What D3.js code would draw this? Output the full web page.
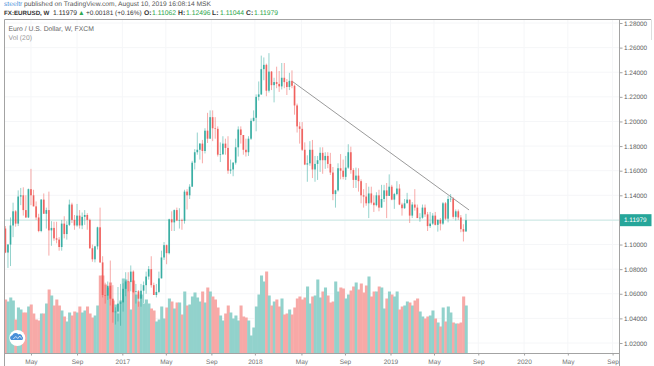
<!DOCTYPE html>
<html>
<head>
<meta charset="utf-8">
<script src="https://cdnjs.cloudflare.com/ajax/libs/d3/7.8.5/d3.min.js"></script>
<style>
  html, body { margin: 0; padding: 0; background: #fff; }
  text { font-family: "Liberation Sans", Arial, sans-serif; text-rendering: geometricPrecision; }
</style>
</head>
<body>
<div id="chart1"></div>
<script>
// weekly candles, first bar = week of 22 Feb 2016
const opens = [
  1.1130,1.0935,1.1000,1.1155,1.1270,1.1170,1.1390,1.1400,1.1280,1.1220,
  1.1450,1.1400,1.1310,1.1220,1.1110,1.1365,1.1250,1.1280,1.1115,1.1135,
  1.1050,1.1040,1.0980,1.1170,1.1085,1.1160,1.1325,1.1200,1.1155,1.1235,
  1.1155,1.1225,1.1240,1.1200,1.0970,1.0880,1.0985,1.1140,1.0855,1.0590,
  1.0585,1.0665,1.0560,1.0450,1.0455,1.0520,1.0530,1.0640,1.0700,1.0695,
  1.0780,1.0615,1.0620,1.0560,1.0625,1.0670,1.0740,1.0800,1.0670,1.0590,
  1.0615,1.0725,1.0895,1.0995,1.0930,1.1205,1.1180,1.1280,1.1195,1.1198,
  1.1192,1.1430,1.1400,1.1470,1.1665,1.1750,1.1770,1.1820,1.1760,1.1925,
  1.1860,1.2035,1.1945,1.1940,1.1730,1.1733,1.1820,1.1785,1.1600,1.1610,
  1.1665,1.1790,1.1935,1.1890,1.1770,1.1750,1.1860,1.2005,1.2030,1.2200,
  1.2220,1.2425,1.2460,1.2250,1.2405,1.2295,1.2320,1.2305,1.2285,1.2355,
  1.2320,1.2280,1.2330,1.2290,1.2130,1.1960,1.1940,1.1770,1.1650,1.1660,
  1.1770,1.1610,1.1655,1.1685,1.1745,1.1685,1.1720,1.1655,1.1585,1.1410,
  1.1440,1.1620,1.1600,1.1550,1.1625,1.1750,1.1605,1.1525,1.1560,1.1515,
  1.1400,1.1390,1.1335,1.1415,1.1340,1.1320,1.1400,1.1300,1.1370,1.1440,
  1.1395,1.1470,1.1365,1.1410,1.1455,1.1325,1.1295,1.1335,1.1365,1.1235,
  1.1325,1.1300,1.1215,1.1218,1.1300,1.1245,1.1150,1.1170,1.1235,1.1160,
  1.1200,1.1170,1.1335,1.1210,1.1370,1.1372,1.1225,1.1270,1.1220,1.1125,
  1.11062
];
const closes = [
  1.0935,1.1000,1.1155,1.1270,1.1170,1.1390,1.1400,1.1280,1.1220,1.1450,
  1.1400,1.1310,1.1220,1.1110,1.1365,1.1250,1.1280,1.1115,1.1135,1.1050,
  1.1040,1.0980,1.1170,1.1085,1.1160,1.1325,1.1200,1.1155,1.1235,1.1155,
  1.1225,1.1240,1.1200,1.0970,1.0880,1.0985,1.1140,1.0855,1.0590,1.0585,
  1.0665,1.0560,1.0450,1.0455,1.0520,1.0530,1.0640,1.0700,1.0695,1.0780,
  1.0615,1.0620,1.0560,1.0625,1.0670,1.0740,1.0800,1.0670,1.0590,1.0615,
  1.0725,1.0895,1.0995,1.0930,1.1205,1.1180,1.1280,1.1195,1.1198,1.1192,
  1.1430,1.1400,1.1470,1.1665,1.1750,1.1770,1.1820,1.1760,1.1925,1.1860,
  1.2035,1.1945,1.1940,1.1730,1.1733,1.1820,1.1785,1.1600,1.1610,1.1665,
  1.1790,1.1935,1.1890,1.1770,1.1750,1.1860,1.2005,1.2030,1.2200,1.2220,
  1.2425,1.2460,1.2250,1.2405,1.2295,1.2320,1.2305,1.2285,1.2355,1.2320,
  1.2280,1.2330,1.2290,1.2130,1.1960,1.1940,1.1770,1.1650,1.1660,1.1770,
  1.1610,1.1655,1.1685,1.1745,1.1685,1.1720,1.1655,1.1585,1.1410,1.1440,
  1.1620,1.1600,1.1550,1.1625,1.1750,1.1605,1.1525,1.1560,1.1515,1.1400,
  1.1390,1.1335,1.1415,1.1340,1.1320,1.1400,1.1300,1.1370,1.1440,1.1395,
  1.1470,1.1365,1.1410,1.1455,1.1325,1.1295,1.1335,1.1365,1.1235,1.1325,
  1.1300,1.1215,1.1218,1.1300,1.1245,1.1150,1.1170,1.1235,1.1160,1.1200,
  1.1170,1.1335,1.1210,1.1370,1.1372,1.1225,1.1270,1.1220,1.1125,1.1105,
  1.11979
];
const highs = [
  1.1150,1.1005,1.1220,1.1340,1.1280,1.1440,1.1460,1.1465,1.1400,1.1455,
  1.1615,1.1445,1.1350,1.1250,1.1370,1.1415,1.1300,1.1430,1.1190,1.1185,
  1.1185,1.1060,1.1200,1.1230,1.1190,1.1365,1.1340,1.1240,1.1330,1.1280,
  1.1260,1.1280,1.1255,1.1210,1.1000,1.0990,1.1145,1.1300,1.0905,1.0690,
  1.0700,1.0870,1.0670,1.0490,1.0655,1.0680,1.0685,1.0775,1.0775,1.0830,
  1.0790,1.0680,1.0630,1.0680,1.0700,1.0780,1.0825,1.0905,1.0690,1.0680,
  1.0780,1.0950,1.1020,1.1000,1.1210,1.1270,1.1285,1.1300,1.1295,1.1210,
  1.1445,1.1450,1.1490,1.1680,1.1775,1.1910,1.1825,1.1850,1.1945,1.2070,
  1.2090,1.2090,1.2035,1.1960,1.1830,1.1880,1.1860,1.1880,1.1690,1.1670,
  1.1860,1.1960,1.1960,1.1890,1.1860,1.1880,1.2025,1.2090,1.2220,1.2325,
  1.2535,1.2520,1.2470,1.2555,1.2410,1.2355,1.2445,1.2410,1.2475,1.2475,
  1.2345,1.2395,1.2415,1.2300,1.2145,1.1995,1.1995,1.1830,1.1725,1.1840,
  1.1850,1.1720,1.1720,1.1790,1.1790,1.1750,1.1750,1.1745,1.1630,1.1445,
  1.1660,1.1735,1.1690,1.1720,1.1815,1.1795,1.1620,1.1625,1.1620,1.1530,
  1.1450,1.1500,1.1470,1.1470,1.1400,1.1425,1.1445,1.1485,1.1485,1.1500,
  1.1570,1.1485,1.1420,1.1515,1.1490,1.1340,1.1370,1.1420,1.1365,1.1345,
  1.1450,1.1325,1.1255,1.1325,1.1325,1.1265,1.1265,1.1255,1.1265,1.1205,
  1.1215,1.1345,1.1345,1.1395,1.1410,1.1385,1.1285,1.1285,1.1240,1.1165,
  1.12496
];
const lows = [
  1.0930,1.0810,1.0825,1.1060,1.1145,1.1150,1.1320,1.1235,1.1215,1.1215,
  1.1320,1.1310,1.1200,1.1100,1.1100,1.1250,1.1130,1.0910,1.0990,1.1030,
  1.1010,1.0950,1.0950,1.1050,1.1040,1.1150,1.1175,1.1120,1.1145,1.1130,
  1.1125,1.1160,1.1120,1.0965,1.0860,1.0855,1.0960,1.0850,1.0570,1.0520,
  1.0550,1.0505,1.0365,1.0350,1.0375,1.0340,1.0455,1.0580,1.0620,1.0620,
  1.0605,1.0520,1.0495,1.0495,1.0525,1.0600,1.0715,1.0650,1.0590,1.0570,
  1.0605,1.0725,1.0875,1.0840,1.0920,1.1110,1.1110,1.1190,1.1130,1.1120,
  1.1170,1.1285,1.1370,1.1470,1.1610,1.1730,1.1690,1.1660,1.1740,1.1825,
  1.1860,1.1840,1.1860,1.1715,1.1670,1.1730,1.1730,1.1575,1.1575,1.1555,
  1.1650,1.1715,1.1820,1.1730,1.1715,1.1720,1.1850,1.2000,1.1920,1.2170,
  1.2215,1.2335,1.2205,1.2235,1.2255,1.2155,1.2270,1.2240,1.2260,1.2270,
  1.2215,1.2255,1.2270,1.2055,1.1910,1.1820,1.1760,1.1645,1.1510,1.1640,
  1.1540,1.1510,1.1525,1.1590,1.1575,1.1615,1.1620,1.1565,1.1360,1.1300,
  1.1430,1.1530,1.1530,1.1525,1.1615,1.1575,1.1460,1.1460,1.1430,1.1335,
  1.1300,1.1315,1.1215,1.1325,1.1265,1.1310,1.1270,1.1300,1.1345,1.1215,
  1.1395,1.1360,1.1290,1.1400,1.1320,1.1235,1.1290,1.1340,1.1175,1.1215,
  1.1275,1.1215,1.1185,1.1210,1.1225,1.1110,1.1135,1.1160,1.1155,1.1105,
  1.1115,1.1160,1.1200,1.1180,1.1345,1.1210,1.1195,1.1200,1.1100,1.1025,
  1.11044
];
const volumes = [
  54,52,56,53,34,46,44,41,41,47,49,40,34,33,40,40,50,64,58,48,
  54,48,43,37,32,41,38,42,41,47,41,43,47,40,36,38,48,78,78,69,
  66,71,53,49,40,53,75,74,72,44,73,59,52,59,50,54,50,45,43,32,
  34,47,35,46,55,52,45,51,51,39,62,48,49,57,61,56,52,62,51,66,
  62,57,54,46,38,33,40,48,41,35,38,33,48,37,36,33,18,26,47,59,
  78,72,82,58,48,52,54,47,55,39,40,44,39,46,55,57,54,56,67,50,
  57,58,74,56,62,66,58,51,52,72,62,66,65,55,59,63,67,71,64,70,
  61,68,77,57,62,62,67,66,45,55,62,59,57,62,44,47,48,52,51,48,
  53,55,42,37,35,37,38,43,35,31,27,46,32,47,41,31,30,30,31,57,48
];

const priceTicks = [1.02,1.04,1.06,1.08,1.10,1.14,1.16,1.18,1.20,1.22,1.24,1.26,1.28];
const gridPrices = [1.02,1.04,1.06,1.08,1.10,1.12,1.14,1.16,1.18,1.20,1.22,1.24,1.26,1.28];
const timeTicks = [10,28,45.7,62.7,80.5,97.5,115.7,132.7,150.5,167.5,184.8,202.7,219.8,237.3];
const timeLabels = ["May","Sep","2017","May","Sep","2018","May","Sep","2019","May","Sep","2020","May","Sep"];

const trendX = [112.3, 181.2];
const trendY = [1.2323, 1.1281];
const lastPrice = 1.11979;

const upColor = "#26a69a", downColor = "#ef5350";
const upVol = "#92d2cc", downVol = "#f7a9a7";

function init() {
  const width = 654, height = 366;
  const left = 4.5, right = 619.5, top = 19.5, bottom = 353.5;

  const svg = d3.select("#chart1").append("svg")
    .attr("width", width).attr("height", height)
    .style("display", "block");

  const x = d3.scaleLinear().domain([-0.35, 240]).range([left, right]);
  const y = d3.scaleLinear().domain([1.02, 1.28]).range([343, 23]);
  const yVol = d3.scaleLinear().domain([0, 100]).range([bottom, bottom - 100]);

  const bars = closes.map((c, i) => ({
    i: i, o: opens[i], h: highs[i], l: lows[i], c: c, v: volumes[i], up: c >= opens[i]
  }));

  // grid
  svg.append("g").selectAll("line").data(timeTicks).enter().append("line")
    .attr("x1", d => x(d)).attr("x2", d => x(d))
    .attr("y1", top).attr("y2", bottom)
    .attr("stroke", "#f5f6f8");
  svg.append("g").selectAll("line").data(gridPrices).enter().append("line")
    .attr("x1", left).attr("x2", right)
    .attr("y1", d => y(d)).attr("y2", d => y(d))
    .attr("stroke", "#f5f6f8");

  // volume, solid colours and a small overlap so no seams show between bars
  const barW = x(1) - x(0);
  svg.append("g").selectAll("rect").data(bars).enter().append("rect")
    .attr("x", d => x(d.i) - barW / 2)
    .attr("y", d => yVol(d.v))
    .attr("width", barW + 0.5)
    .attr("height", d => yVol(0) - yVol(d.v))
    .attr("fill", d => d.up ? upVol : downVol);

  // last price line
  svg.append("line")
    .attr("x1", left).attr("x2", right)
    .attr("y1", y(lastPrice)).attr("y2", y(lastPrice))
    .attr("stroke", "#c9e7e3");

  // candles
  const candles = svg.append("g");
  candles.selectAll("line").data(bars).enter().append("line")
    .attr("x1", d => x(d.i)).attr("x2", d => x(d.i))
    .attr("y1", d => y(d.h)).attr("y2", d => y(d.l))
    .attr("stroke", d => d.up ? upColor : downColor)
    .attr("stroke-width", 0.7)
    .attr("stroke-opacity", 0.7);
  candles.selectAll("rect").data(bars).enter().append("rect")
    .attr("x", d => x(d.i) - 0.85)
    .attr("y", d => y(Math.max(d.o, d.c)))
    .attr("width", 1.7)
    .attr("height", d => Math.max(0.6, Math.abs(y(d.o) - y(d.c))))
    .attr("fill", d => d.up ? upColor : downColor)
    .attr("fill-opacity", 0.85);

  // trend line
  svg.append("line")
    .attr("x1", x(trendX[0])).attr("y1", y(trendY[0]))
    .attr("x2", x(trendX[1])).attr("y2", y(trendY[1]))
    .attr("stroke", "#808080").attr("stroke-width", 0.8);

  // frame
  const frame = "#a3a3a3";
  svg.append("line").attr("x1", left).attr("x2", 651).attr("y1", top).attr("y2", top).attr("stroke", frame);
  svg.append("line").attr("x1", left).attr("x2", left).attr("y1", top).attr("y2", height).attr("stroke", frame);
  svg.append("line").attr("x1", right).attr("x2", right).attr("y1", top).attr("y2", height).attr("stroke", frame);
  svg.append("line").attr("x1", left).attr("x2", right).attr("y1", bottom).attr("y2", bottom).attr("stroke", frame);
  svg.append("line").attr("x1", 651.5).attr("x2", 651.5).attr("y1", top).attr("y2", 40).attr("stroke", "#dddddd");

  // x axis
  const xAxis = d3.axisBottom(x)
    .tickValues(timeTicks)
    .tickFormat((d, i) => timeLabels[i])
    .tickSize(2).tickPadding(3.4).tickSizeOuter(0);
  const gx = svg.append("g").attr("transform", "translate(0," + bottom + ")").call(xAxis);
  gx.select(".domain").remove();
  gx.selectAll("line").attr("stroke", frame);
  gx.selectAll("text").attr("fill", "#707070").style("font-size", "6.5px");

  // y axis
  const yAxis = d3.axisRight(y)
    .tickValues(priceTicks)
    .tickFormat(d3.format(".5f"))
    .tickSize(3).tickPadding(1.5).tickSizeOuter(0);
  const gy = svg.append("g").attr("transform", "translate(" + right + ",0)").call(yAxis);
  gy.select(".domain").remove();
  gy.selectAll("line").attr("stroke", frame);
  gy.selectAll("text").attr("fill", "#606060").style("font-size", "6.4px");

  // last price label
  svg.append("rect")
    .attr("x", right + 0.5).attr("y", y(lastPrice) - 6)
    .attr("width", 31.5).attr("height", 12)
    .attr("fill", upColor);
  svg.append("text")
    .attr("x", 624).attr("y", y(lastPrice) + 2.3)
    .attr("fill", "#fff").style("font-size", "6.4px")
    .text(d3.format(".5f")(lastPrice));

  // header texts
  const head = svg.append("text").attr("x", 4).attr("y", 5.5)
    .style("font-size", "6.7px").attr("fill", "#555");
  head.append("tspan").attr("fill", "#4a90d9").text("steeltr");
  head.append("tspan").text(" published on TradingView.com, August 10, 2019 16:08:14 MSK");

  const green = "#2fa84f";
  const info = svg.append("g").style("font-size", "6.8px");
  info.append("text").attr("x", 4).attr("y", 14.5).attr("font-weight", "bold").attr("fill", "#333")
    .style("font-size", "6.2px").text("FX:EURUSD, W");
  info.append("text").attr("x", 53).attr("y", 14.5).attr("fill", "#333").text("1.11979");
  info.append("text").attr("x", 78).attr("y", 14.5).attr("fill", green).text("\u25B2");
  info.append("text").attr("x", 86).attr("y", 14.5).attr("fill", "#333")
    .style("font-size", "6.5px").text("+0.00181 (+0.16%)");
  [["O:", "1.11062"], ["H:", "1.12496"], ["L:", "1.11044"], ["C:", "1.11979"]].forEach((p, i) => {
    const px = 144 + i * 34;
    info.append("text").attr("x", px).attr("y", 14.5).attr("font-weight", "bold").attr("fill", "#333").text(p[0]);
    info.append("text").attr("x", px + 8).attr("y", 14.5).attr("fill", green).text(p[1]);
  });

  svg.append("text").attr("x", 8.5).attr("y", 30.7)
    .style("font-size", "6.8px").attr("fill", "#666")
    .text("Euro / U.S. Dollar, W, FXCM");
  svg.append("text").attr("x", 8.5).attr("y", 40)
    .style("font-size", "6.8px").attr("fill", "#999")
    .text("Vol (20)");

  // logo badge
  const logo = svg.append("g").attr("transform", "translate(17.3,338)");
  logo.append("circle").attr("r", 8).attr("fill", "#fff");
  logo.append("path")
    .attr("d", "M-6,2 a2.6,2.6 0 0 1 1,-4.8 a3.4,3.4 0 0 1 6,-0.8 a2.8,2.8 0 0 1 4,2.4 a1.8,1.8 0 0 1 -0.4,3.2 z")
    .attr("fill", "#4a90d9");
  logo.append("path")
    .attr("d", "M-4,1 l2.5,-2.5 l2,2 l2,-2.5 l2,2.5")
    .attr("fill", "none").attr("stroke", "#fff").attr("stroke-width", 0.7);
}

window.onload = init;
</script>
</body>
</html>
